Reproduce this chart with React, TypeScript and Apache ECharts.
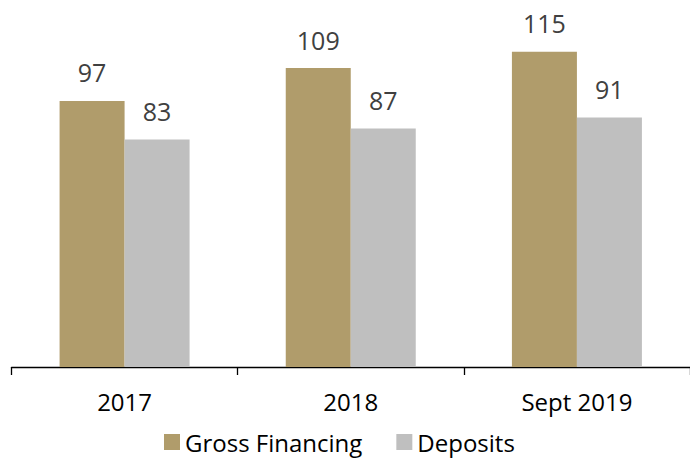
import React, { useEffect, useRef } from "react";
import * as echarts from "echarts";

const categories = ["2017", "2018", "Sept 2019"];
const grossFinancing = [97, 109, 115];
const deposits = [83, 87, 91];

const FONT = "'Open Sans', 'Noto Sans', sans-serif";

export default function App() {
  const ref = useRef<HTMLDivElement>(null);
  useEffect(() => {
    if (!ref.current) return;
    const chart = echarts.init(ref.current, undefined, { renderer: "svg" });
    const label = {
      show: true,
      position: "top" as const,
      distance: 16,
      color: "#404040",
      fontSize: 25,
      fontFamily: FONT,
    };
    chart.setOption({
      animation: false,
      grid: { left: 11.5, right: -7, top: 10.5, bottom: 91 },
      legend: {
        top: 430,
        left: 164,
        padding: 0,
        itemWidth: 16,
        itemHeight: 16,
        itemGap: 34,
        icon: "rect",
        textStyle: { color: "#000", fontSize: 24, lineHeight: 24, fontFamily: FONT },
        data: ["Gross Financing", "Deposits"],
      },
      xAxis: {
        type: "category",
        data: categories,
        axisLine: { lineStyle: { color: "#000", width: 1.3 } },
        axisTick: { show: true, length: 8, lineStyle: { color: "#000", width: 1.3 } },
        axisLabel: { color: "#000", fontSize: 24, fontFamily: FONT, margin: 22 },
      },
      yAxis: {
        type: "value",
        min: 0,
        max: 130,
        show: false,
        splitLine: { show: false },
      },
      series: [
        {
          name: "Gross Financing",
          type: "bar",
          data: grossFinancing,
          barWidth: 65,
          barGap: "0%",
          itemStyle: { color: "#B09C6B" },
          label,
        },
        {
          name: "Deposits",
          type: "bar",
          data: deposits,
          barWidth: 65,
          itemStyle: { color: "#BFBFBF" },
          label,
        },
      ],
    });
    return () => chart.dispose();
  }, []);
  return (
    <div
      ref={ref}
      style={{ position: "absolute", left: 0, top: 0, width: 690, height: 458 }}
    />
  );
}
